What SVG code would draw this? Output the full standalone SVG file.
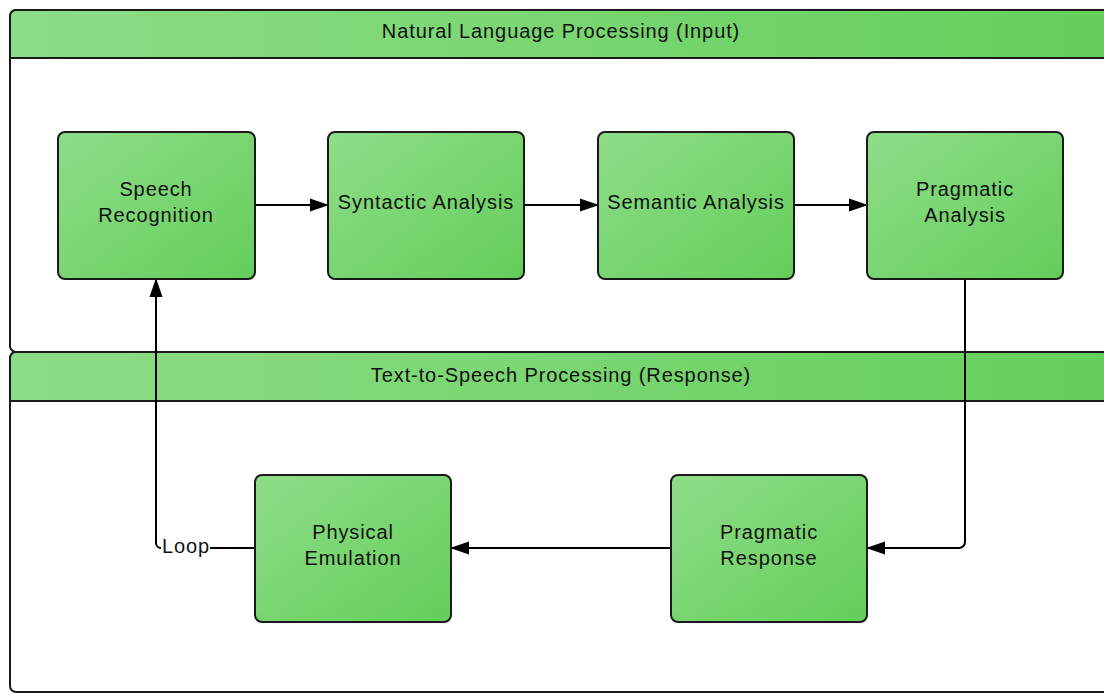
<svg xmlns="http://www.w3.org/2000/svg" width="1104" height="694" viewBox="0 0 1104 694">
  <defs>
    <linearGradient id="nodeFill" x1="0" y1="0" x2="1" y2="1">
      <stop offset="0" stop-color="#8FDD89"/>
      <stop offset="1" stop-color="#64CE5A"/>
    </linearGradient>
    <linearGradient id="headFill" x1="0" y1="0" x2="1" y2="0">
      <stop offset="0" stop-color="#8EDC87"/>
      <stop offset="1" stop-color="#64CF5B"/>
    </linearGradient>
    <marker id="arrow" markerWidth="19" markerHeight="14" refX="18" refY="7" orient="auto" markerUnits="userSpaceOnUse" viewBox="0 0 19 14">
      <path d="M0,0.5 L19,7 L0,13.5 Z" fill="#000"/>
    </marker>
  </defs>
  <style>
    .lane { fill: #fff; stroke: #1a1a1a; stroke-width: 2; }
    .head { fill: url(#headFill); stroke: #1a1a1a; stroke-width: 2; }
    .node { fill: url(#nodeFill); stroke: #1a1a1a; stroke-width: 2; }
    .lbl { font-family: "Liberation Sans", Arial, sans-serif; font-size: 20px; letter-spacing: 0.9px; fill: #111; text-anchor: middle; }
    .edge { fill: none; stroke: #000; stroke-width: 2; }
  </style>

  <!-- swimlanes -->
  <g id="lane-input">
    <rect class="lane" x="10" y="10" width="1110" height="342" rx="6"/>
    <path class="head" d="M10,58 V16 a6,6 0 0 1 6,-6 H1120 V58 Z"/>
    <text class="lbl" x="561" y="38">Natural Language Processing (Input)</text>
  </g>
  <g id="lane-response">
    <rect class="lane" x="10" y="352" width="1110" height="340" rx="6"/>
    <path class="head" d="M10,401 V358 a6,6 0 0 1 6,-6 H1120 V401 Z"/>
    <text class="lbl" x="561" y="382">Text-to-Speech Processing (Response)</text>
  </g>

  <!-- connectors -->
  <g id="connectors">
    <line class="edge" x1="255" y1="205" x2="328" y2="205" marker-end="url(#arrow)"/>
    <line class="edge" x1="524" y1="205" x2="598" y2="205" marker-end="url(#arrow)"/>
    <line class="edge" x1="794" y1="205" x2="867" y2="205" marker-end="url(#arrow)"/>
    <path class="edge" d="M965,279 V542 a6,6 0 0 1 -6,6 H867" marker-end="url(#arrow)"/>
    <line class="edge" x1="671" y1="548" x2="451" y2="548" marker-end="url(#arrow)"/>
    <line class="edge" x1="255" y1="548" x2="210" y2="548"/>
    <path class="edge" d="M161,548 a5,5 0 0 1 -5,-5 V279" marker-end="url(#arrow)"/>
    <text class="lbl" x="186" y="553">Loop</text>
  </g>

  <!-- nodes -->
  <g id="speech-recognition">
    <rect class="node" x="58" y="132" width="197" height="147" rx="7"/>
    <text class="lbl" x="156" y="196">Speech</text>
    <text class="lbl" x="156" y="222">Recognition</text>
  </g>
  <g id="syntactic-analysis">
    <rect class="node" x="328" y="132" width="196" height="147" rx="7"/>
    <text class="lbl" x="426" y="209">Syntactic Analysis</text>
  </g>
  <g id="semantic-analysis">
    <rect class="node" x="598" y="132" width="196" height="147" rx="7"/>
    <text class="lbl" x="696" y="209">Semantic Analysis</text>
  </g>
  <g id="pragmatic-analysis">
    <rect class="node" x="867" y="132" width="196" height="147" rx="7"/>
    <text class="lbl" x="965" y="196">Pragmatic</text>
    <text class="lbl" x="965" y="222">Analysis</text>
  </g>
  <g id="physical-emulation">
    <rect class="node" x="255" y="475" width="196" height="147" rx="7"/>
    <text class="lbl" x="353" y="539">Physical</text>
    <text class="lbl" x="353" y="565">Emulation</text>
  </g>
  <g id="pragmatic-response">
    <rect class="node" x="671" y="475" width="196" height="147" rx="7"/>
    <text class="lbl" x="769" y="539">Pragmatic</text>
    <text class="lbl" x="769" y="565">Response</text>
  </g>
</svg>
